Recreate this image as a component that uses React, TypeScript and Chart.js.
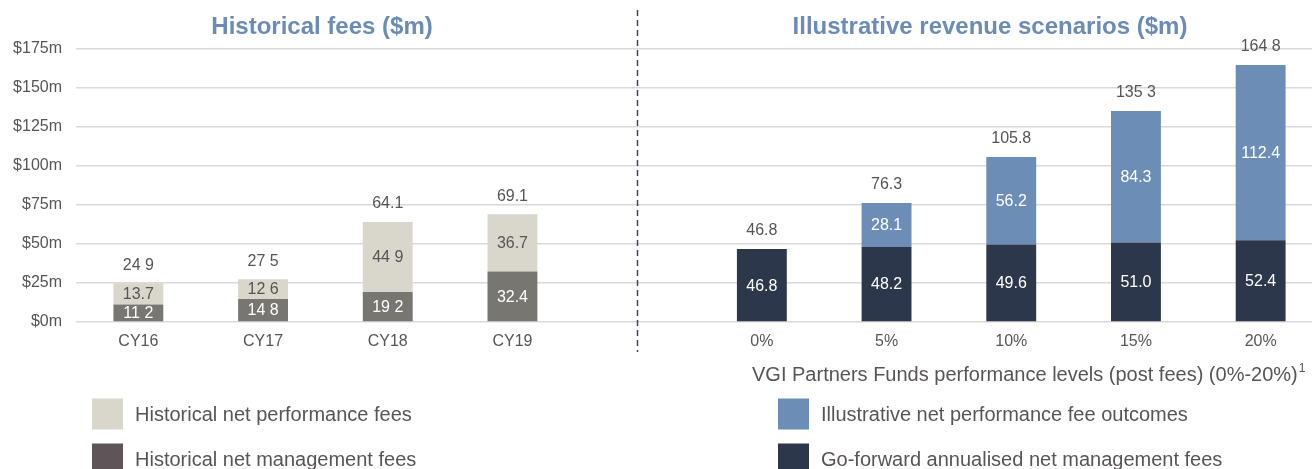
import React, { useEffect, useRef } from 'react';
import { Chart, registerables } from 'chart.js';

Chart.register(...registerables);

// ---- data ----
const categories = ['CY16', 'CY17', 'CY18', 'CY19', '', '0%', '5%', '10%', '15%', '20%'];

const histManagement = [11.2, 14.8, 19.2, 32.4, null, null, null, null, null, null];
const histPerformance = [13.7, 12.6, 44.9, 36.7, null, null, null, null, null, null];
const fwdManagement = [null, null, null, null, null, 46.8, 48.2, 49.6, 51.0, 52.4];
const illusPerformance = [null, null, null, null, null, null, 28.1, 56.2, 84.3, 112.4];

const histManagementLabels = ['11 2', '14 8', '19 2', '32.4', '', '', '', '', '', ''];
const histPerformanceLabels = ['13.7', '12 6', '44 9', '36.7', '', '', '', '', '', ''];
const fwdManagementLabels = ['', '', '', '', '', '46.8', '48.2', '49.6', '51.0', '52.4'];
const illusPerformanceLabels = ['', '', '', '', '', '', '28.1', '56.2', '84.3', '112.4'];
const totalLabels = ['24 9', '27 5', '64.1', '69.1', '', '46.8', '76.3', '105.8', '135 3', '164 8'];

const yTicks = [0, 25, 50, 75, 100, 125, 150, 175];

const leftTitle = 'Historical fees ($m)';
const rightTitle = 'Illustrative revenue scenarios ($m)';
const rightAxisCaption = 'VGI Partners Funds performance levels (post fees) (0%-20%)';
const rightAxisNote = '1';

const legendLeft = ['Historical net performance fees', 'Historical net management fees'];
const legendRight = ['Illustrative net performance fee outcomes', 'Go-forward annualised net management fees'];

// ---- styles ----
const FONT = '"Liberation Sans", Arial, Helvetica, sans-serif';
const TEXT = '#595455';
const C_HIST_PERF = '#d9d6cc';
const C_HIST_MGMT = '#787670';
const C_HIST_MGMT_LEGEND = '#5e5558';
const C_ILLUS_PERF = '#6c8db5';
const C_FWD_MGMT = '#2d374b';
const C_TITLE = '#6b8cb6';

const valueLabelsPlugin = {
  id: 'valueLabels',
  afterDatasetsDraw(chart: any) {
    const ctx = chart.ctx;
    ctx.save();
    ctx.font = `16px ${FONT}`;
    ctx.textAlign = 'center';
    ctx.textBaseline = 'middle';
    chart.data.datasets.forEach((ds: any, di: number) => {
      const meta = chart.getDatasetMeta(di);
      meta.data.forEach((el: any, i: number) => {
        const v = ds.data[i];
        const txt = ds.valueLabels[i];
        if (v == null || !txt) return;
        const p = el.getProps(['x', 'y', 'base'], true);
        ctx.fillStyle = ds.labelColor;
        ctx.fillText(txt, p.x, (p.y + p.base) / 2 + 1);
      });
    });
    const xs = chart.scales.x;
    const ys = chart.scales.y;
    categories.forEach((_c, i) => {
      const t = totalLabels[i];
      if (!t) return;
      const total = chart.data.datasets.reduce((s: number, ds: any) => s + (ds.data[i] ?? 0), 0);
      ctx.fillStyle = TEXT;
      ctx.fillText(t, xs.getPixelForValue(i), ys.getPixelForValue(total) - 18);
    });
    ctx.restore();
  },
};

const decorPlugin = {
  id: 'decor',
  afterDraw(chart: any) {
    const ctx = chart.ctx;
    const xs = chart.scales.x;
    ctx.save();
    // titles
    ctx.font = `bold 24px ${FONT}`;
    ctx.fillStyle = C_TITLE;
    ctx.textAlign = 'center';
    ctx.textBaseline = 'middle';
    ctx.fillText(leftTitle, 322, 27);
    ctx.fillText(rightTitle, 990, 27);

    // dashed separator
    const sx = Math.round(xs.getPixelForValue(4)) + 0.5;
    ctx.strokeStyle = '#3c4560';
    ctx.lineWidth = 1.5;
    ctx.setLineDash([6, 4]);
    ctx.beginPath();
    ctx.moveTo(sx, 10);
    ctx.lineTo(sx, 352);
    ctx.stroke();
    ctx.setLineDash([]);

    // right axis caption
    ctx.font = `20px ${FONT}`;
    ctx.fillStyle = TEXT;
    ctx.textAlign = 'left';
    ctx.textBaseline = 'middle';
    ctx.fillText(rightAxisCaption, 752, 375);
    const w = ctx.measureText(rightAxisCaption).width;
    ctx.font = `12px ${FONT}`;
    ctx.fillText(rightAxisNote, 752 + w + 1, 369);

    // legends
    const rows = [414, 459];
    const drawItem = (sx0: number, y: number, color: string, label: string) => {
      ctx.fillStyle = color;
      ctx.fillRect(sx0, y - 15.5, 31, 31);
      ctx.font = `20px ${FONT}`;
      ctx.fillStyle = TEXT;
      ctx.textAlign = 'left';
      ctx.textBaseline = 'middle';
      ctx.fillText(label, sx0 + 43, y + 1);
    };
    drawItem(92, rows[0], C_HIST_PERF, legendLeft[0]);
    drawItem(92, rows[1], C_HIST_MGMT_LEGEND, legendLeft[1]);
    drawItem(778, rows[0], C_ILLUS_PERF, legendRight[0]);
    drawItem(778, rows[1], C_FWD_MGMT, legendRight[1]);
    ctx.restore();
  },
};

export default function App() {
  const ref = useRef<HTMLCanvasElement | null>(null);

  useEffect(() => {
    if (!ref.current) return;
    const chart = new Chart(ref.current, {
      type: 'bar',
      data: {
        labels: categories,
        datasets: [
          {
            label: legendLeft[1],
            data: histManagement,
            backgroundColor: C_HIST_MGMT,
            valueLabels: histManagementLabels,
            labelColor: '#ffffff',
          } as any,
          {
            label: legendLeft[0],
            data: histPerformance,
            backgroundColor: C_HIST_PERF,
            valueLabels: histPerformanceLabels,
            labelColor: TEXT,
          } as any,
          {
            label: legendRight[1],
            data: fwdManagement,
            backgroundColor: C_FWD_MGMT,
            valueLabels: fwdManagementLabels,
            labelColor: '#ffffff',
          } as any,
          {
            label: legendRight[0],
            data: illusPerformance,
            backgroundColor: C_ILLUS_PERF,
            valueLabels: illusPerformanceLabels,
            labelColor: '#ffffff',
          } as any,
        ],
      },
      options: {
        responsive: false,
        animation: false,
        layout: { padding: { top: 49, left: 0, right: 0, bottom: 0 } },
        datasets: { bar: { barPercentage: 0.8, categoryPercentage: 0.5, skipNull: true } },
        plugins: { legend: { display: false }, tooltip: { enabled: false }, title: { display: false } },
        scales: {
          x: {
            stacked: true,
            grid: { display: false, drawTicks: false },
            border: { display: false },
            ticks: { color: TEXT, font: { family: FONT, size: 16 }, padding: 10, maxRotation: 0, autoSkip: false },
            afterFit: (s: any) => {
              s.height = 147;
            },
          },
          y: {
            stacked: true,
            min: 0,
            max: 175,
            afterBuildTicks: (s: any) => {
              s.ticks = yTicks.map((v) => ({ value: v }));
            },
            grid: { color: '#d9d9d9', lineWidth: 1.5, drawTicks: false },
            border: { display: false },
            ticks: {
              color: TEXT,
              font: { family: FONT, size: 16 },
              padding: 14,
              callback: (v: any) => `$${v}m`,
            },
            afterFit: (s: any) => {
              s.width = 76;
            },
          },
        },
      } as any,
      plugins: [valueLabelsPlugin, decorPlugin],
    });
    return () => chart.destroy();
  }, []);

  return (
    <div
      style={{
        position: 'absolute',
        left: 0,
        top: 0,
        width: 1312,
        height: 469,
        overflow: 'hidden',
        background: '#ffffff',
      }}
    >
      <canvas ref={ref} width={1323} height={469} style={{ display: 'block' }} />
    </div>
  );
}
